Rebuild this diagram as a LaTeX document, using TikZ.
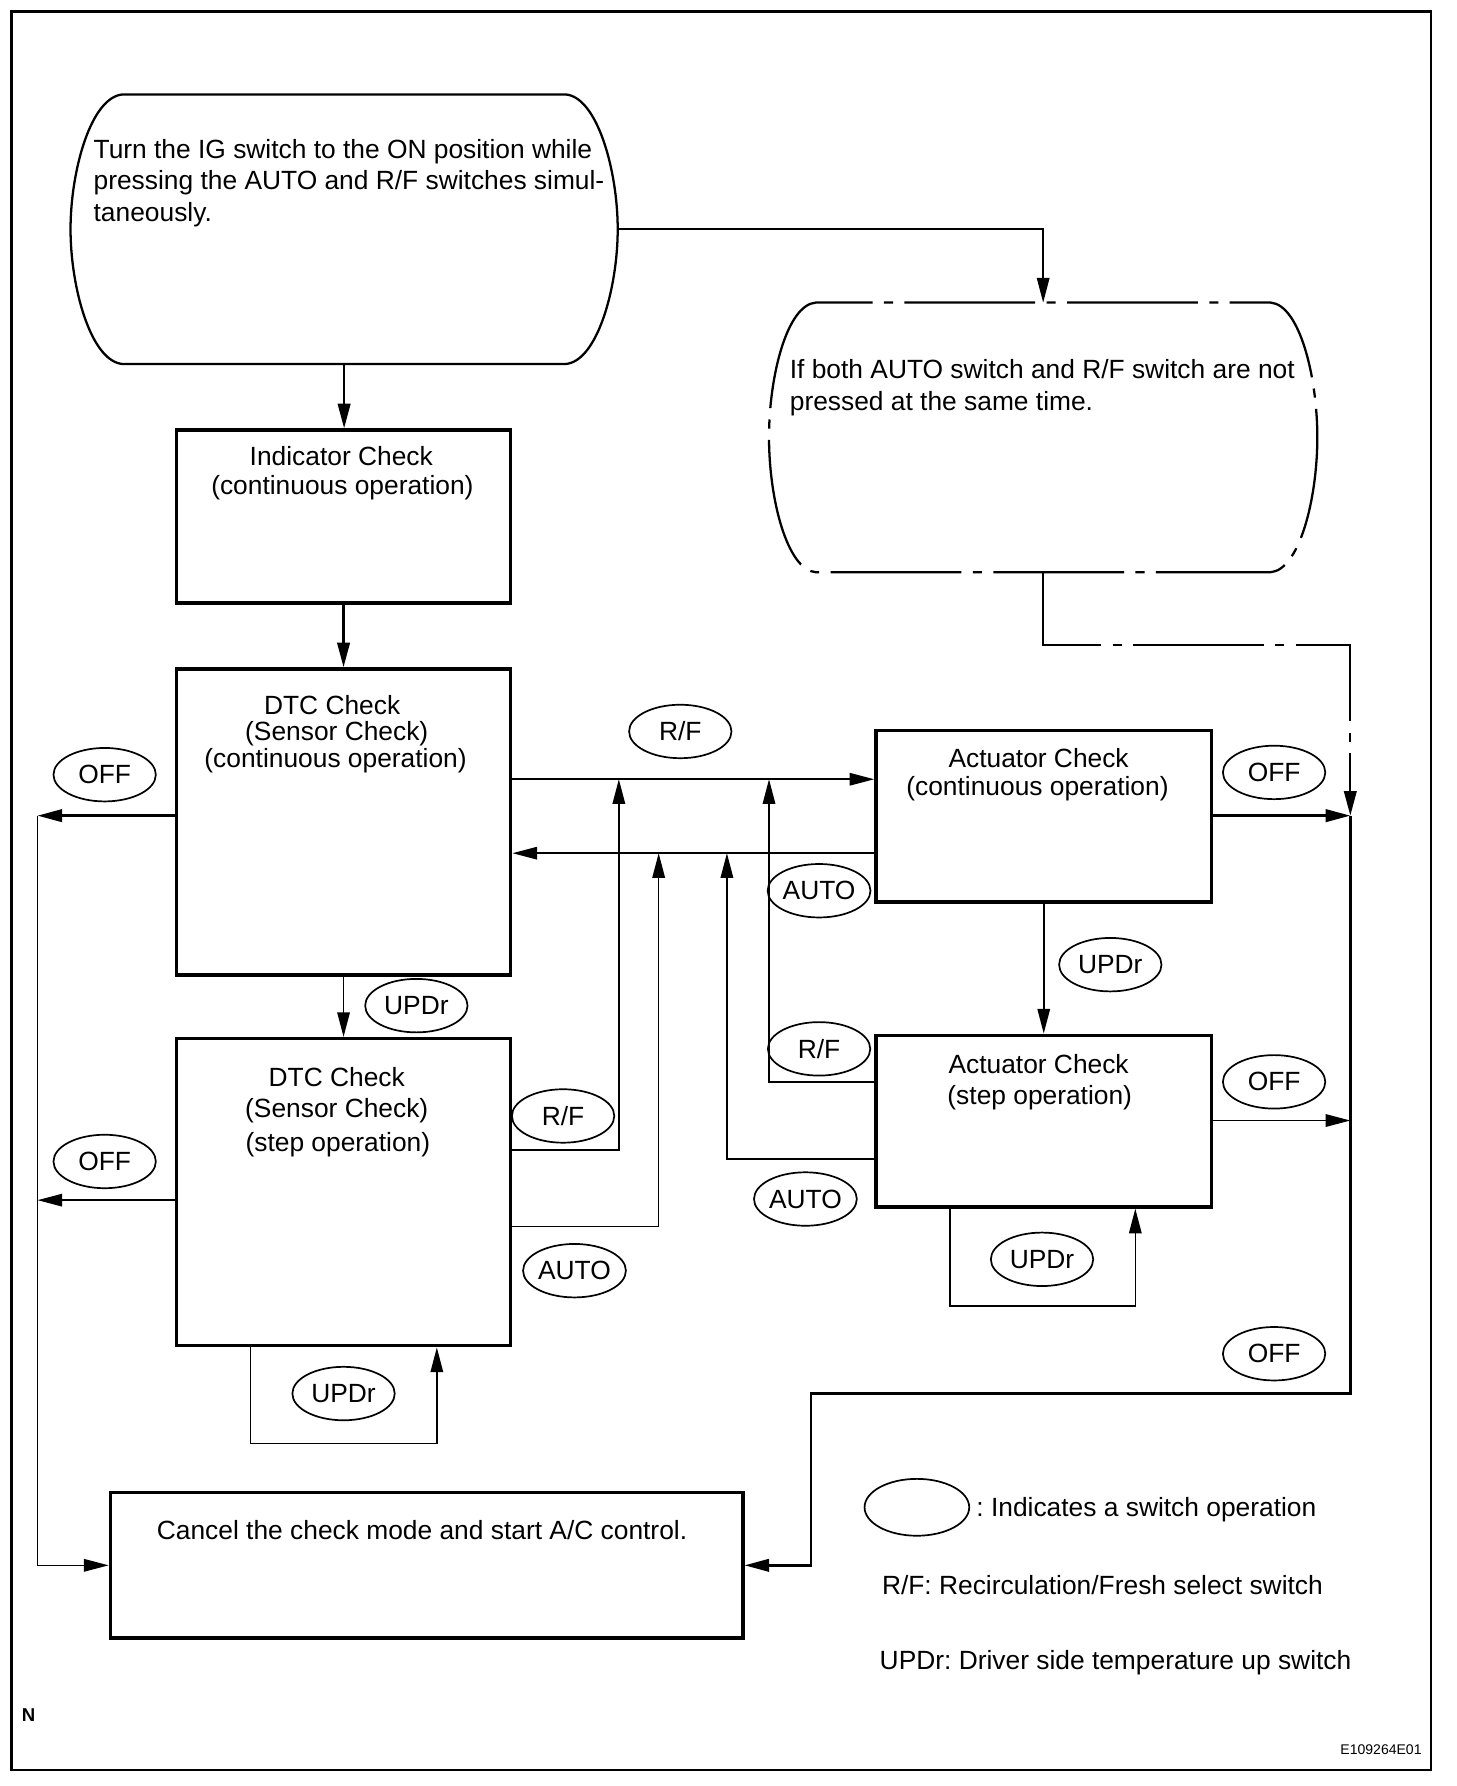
\documentclass[tikz,border=0pt]{standalone}
\usepackage{fontspec}
\setmainfont{Liberation Sans}
\usetikzlibrary{arrows.meta,shapes.geometric,calc}
\begin{document}
\frenchspacing
\begin{tikzpicture}[x=0.6pt,y=-0.6pt,
  fs/.style={font=\fontsize{13.9pt}{16.8pt}\selectfont\frenchspacing},
  box/.style={draw,line width=1.8pt,rectangle,inner sep=0pt},
  ghost/.style={inner sep=0pt,outer sep=0pt},
  sw/.style={draw,ellipse,line width=0.9pt,minimum width=54pt,minimum height=28.2pt,inner sep=0pt,fs},
  tx/.style={inner sep=0pt,fs,anchor=base},
  txl/.style={inner sep=0pt,fs,anchor=base west},
  thinl/.style={line width=0.8pt},
  thkl/.style={line width=1.3pt},
  tip/.style={-{Triangle[length=13pt,width=6.6pt]}},
  dd/.style={line width=1.2pt,dash pattern=on 69pt off 6pt on 4.8pt off 6pt},
]
\useasboundingbox (0,0) rectangle (1280,1570);
\draw[line width=1.2pt] (10,10) rectangle (1258,1556);

% ---- start oval
\node[ghost,minimum width=481*0.6pt,minimum height=237*0.6pt] (start) at (302.5,201.5) {};
\draw[line width=1.2pt] (108,83) -- (497,83) .. controls (525,85) and (543,150) .. (543,201.5)
  .. controls (543,253) and (525,318) .. (497,320) -- (108,320)
  .. controls (80,318) and (62,253) .. (62,201.5) .. controls (62,150) and (80,85) .. (108,83) -- cycle;
\node[txl] (t1a) at (82,139) {Turn the IG switch to the ON position while};
\node[txl] (t1b) at (82,167) {pressing the AUTO and R/F switches simul-};
\node[txl] (t1c) at (82,195) {taneously.};

% ---- condition oval (dash-dot)
\node[ghost,minimum width=482*0.6pt,minimum height=237*0.6pt] (cond) at (917,384.5) {};
\draw[dd,dash phase=39pt] (717,266) -- (1117,266) .. controls (1142,268) and (1158,330) .. (1158,384.5)
  .. controls (1158,439) and (1142,501) .. (1117,503) -- (717,503)
  .. controls (692,501) and (676,439) .. (676,384.5) .. controls (676,330) and (692,268) .. (717,266) -- cycle;
\node[txl] (t2a) at (694,333) {If both AUTO switch and R/F switch are not};
\node[txl] (t2b) at (694,361) {pressed at the same time.};

% ---- boxes
\node[box,minimum width=294*0.6pt,minimum height=152*0.6pt] (ind) at (302,454) {};
\node[tx] (indA) at (300,409) {Indicator Check};
\node[tx] (indB) at (301,435) {(continuous operation)};

\node[box,minimum width=294*0.6pt,minimum height=269*0.6pt] (dtc1) at (302,722.5) {};
\node[tx] (d1A) at (292,628) {DTC Check};
\node[tx] (d1B) at (296,651) {(Sensor Check)};
\node[tx] (d1C) at (295,675) {(continuous operation)};

\node[box,minimum width=294*0.6pt,minimum height=270*0.6pt] (dtc2) at (302,1048) {};
\node[tx] (d2A) at (296,955) {DTC Check};
\node[tx] (d2B) at (296,982) {(Sensor Check)};
\node[tx] (d2C) at (297,1012) {(step operation)};

\node[box,minimum width=295*0.6pt,minimum height=151*0.6pt] (ac1) at (917.5,717.5) {};
\node[tx] (a1A) at (913,675) {Actuator Check};
\node[tx] (a1B) at (912,699) {(continuous operation)};

\node[box,minimum width=295*0.6pt,minimum height=151*0.6pt] (ac2) at (917.5,985.5) {};
\node[tx] (a2A) at (913,944) {Actuator Check};
\node[tx] (a2B) at (914,971) {(step operation)};

\node[box,minimum width=556*0.6pt,minimum height=128*0.6pt] (cancel) at (375,1376) {};
\node[tx] (cA) at (371,1353) {Cancel the check mode and start A/C control.};

% ---- helper coordinates
\coordinate (rRF) at (0,685);
\coordinate (rAU) at (0,750);
\coordinate (jL1) at (33,717);
\coordinate (jL2) at (33,1055);
\coordinate (jR1) at (1187,717);
\coordinate (jR2) at (1187,985);
\coordinate (cR) at (1187,567);
\coordinate (bR) at (1187,1225);
\coordinate (cJ) at (713,1376);
\coordinate (k6) at (544,1011);
\coordinate (k7) at (579,1078);
\coordinate (k8) at (676,951);
\coordinate (k9) at (639,1019);
\coordinate (l1) at (220,1269);
\coordinate (l2) at (384,1269);
\coordinate (l3) at (835,1148);
\coordinate (l4) at (998,1148);

% ---- connectors
\draw[thkl,tip] (start.south) -- (start.south |- ind.north);
\draw[thkl,tip] (ind.south) -- (dtc1.north);
\draw[thinl,tip] (dtc1.south) -- (dtc2.north);
\draw[thinl,tip] (ac1.south) -- (ac2.north);
\draw[thinl,tip] (start.east) -| (cond.north);
\draw[dd,tip] (cond.south) |- (cR) -- (jR1);

\draw[thinl,tip] (rRF -| dtc1.east) -- (rRF -| ac1.west);
\draw[thinl,tip] (rAU -| ac1.west) -- (rAU -| dtc1.east);
\draw[thinl,tip] (dtc2.east |- k6) -- (k6) -- (k6 |- rRF);
\draw[thinl,tip] (dtc2.east |- k7) -- (k7) -- (k7 |- rAU);
\draw[thinl,tip] (ac2.west |- k8) -- (k8) -- (k8 |- rRF);
\draw[thinl,tip] (ac2.west |- k9) -- (k9) -- (k9 |- rAU);

\draw[thinl,tip] (dtc2.south -| l1) -- (l1) -- (l2) -- (dtc2.south -| l2);
\draw[thinl,tip] (ac2.south -| l3) -- (l3) -- (l4) -- (ac2.south -| l4);

\draw[thkl,tip] (jL1 -| dtc1.west) -- (jL1);
\draw[thinl,tip] (jL2 -| dtc2.west) -- (jL2);
\draw[thinl,tip] (jL1) |- (cancel.west);

\draw[thkl,tip] (jR1 -| ac1.east) -- (jR1);
\draw[thinl,tip] (jR2 -| ac2.east) -- (jR2);
\draw[thkl,tip] (jR1) -- (bR) -| (cJ) -- (cancel.east);

% ---- switch ellipses
\node[sw] (off1) at (92,681) {OFF};
\node[sw] (off2) at (92,1021) {OFF};
\node[sw] (off3) at (1120,679) {OFF};
\node[sw] (off4) at (1120,951) {OFF};
\node[sw] (off5) at (1120,1190) {OFF};
\node[sw] (rf1) at (598,643) {R/F};
\node[sw] (rf2) at (495,981) {R/F};
\node[sw] (rf3) at (720,922) {R/F};
\node[sw] (au1) at (720,783) {AUTO};
\node[sw] (au2) at (505,1117) {AUTO};
\node[sw] (au3) at (708,1054) {AUTO};
\node[sw] (up1) at (366,884) {UPDr};
\node[sw] (up2) at (302,1225) {UPDr};
\node[sw] (up3) at (976,848) {UPDr};
\node[sw] (up4) at (916,1107) {UPDr};

% ---- legend
\node[sw,minimum width=92*0.6pt,minimum height=50*0.6pt] (leg) at (806,1325) {};
\node[txl] (legA) at (858,1333) {: Indicates a switch operation};
\node[txl] (legB) at (775,1402) {R/F: Recirculation/Fresh select switch};
\node[txl] (legC) at (773,1468) {UPDr: Driver side temperature up switch};

\node[inner sep=0pt,anchor=base west,font=\fontsize{9.8pt}{11pt}\selectfont\bfseries] (nN) at (19,1513) {N};
\node[inner sep=0pt,anchor=base east,font=\fontsize{7.4pt}{9pt}\selectfont] (code) at (1250,1542) {E109264E01};
\end{tikzpicture}
\end{document}
